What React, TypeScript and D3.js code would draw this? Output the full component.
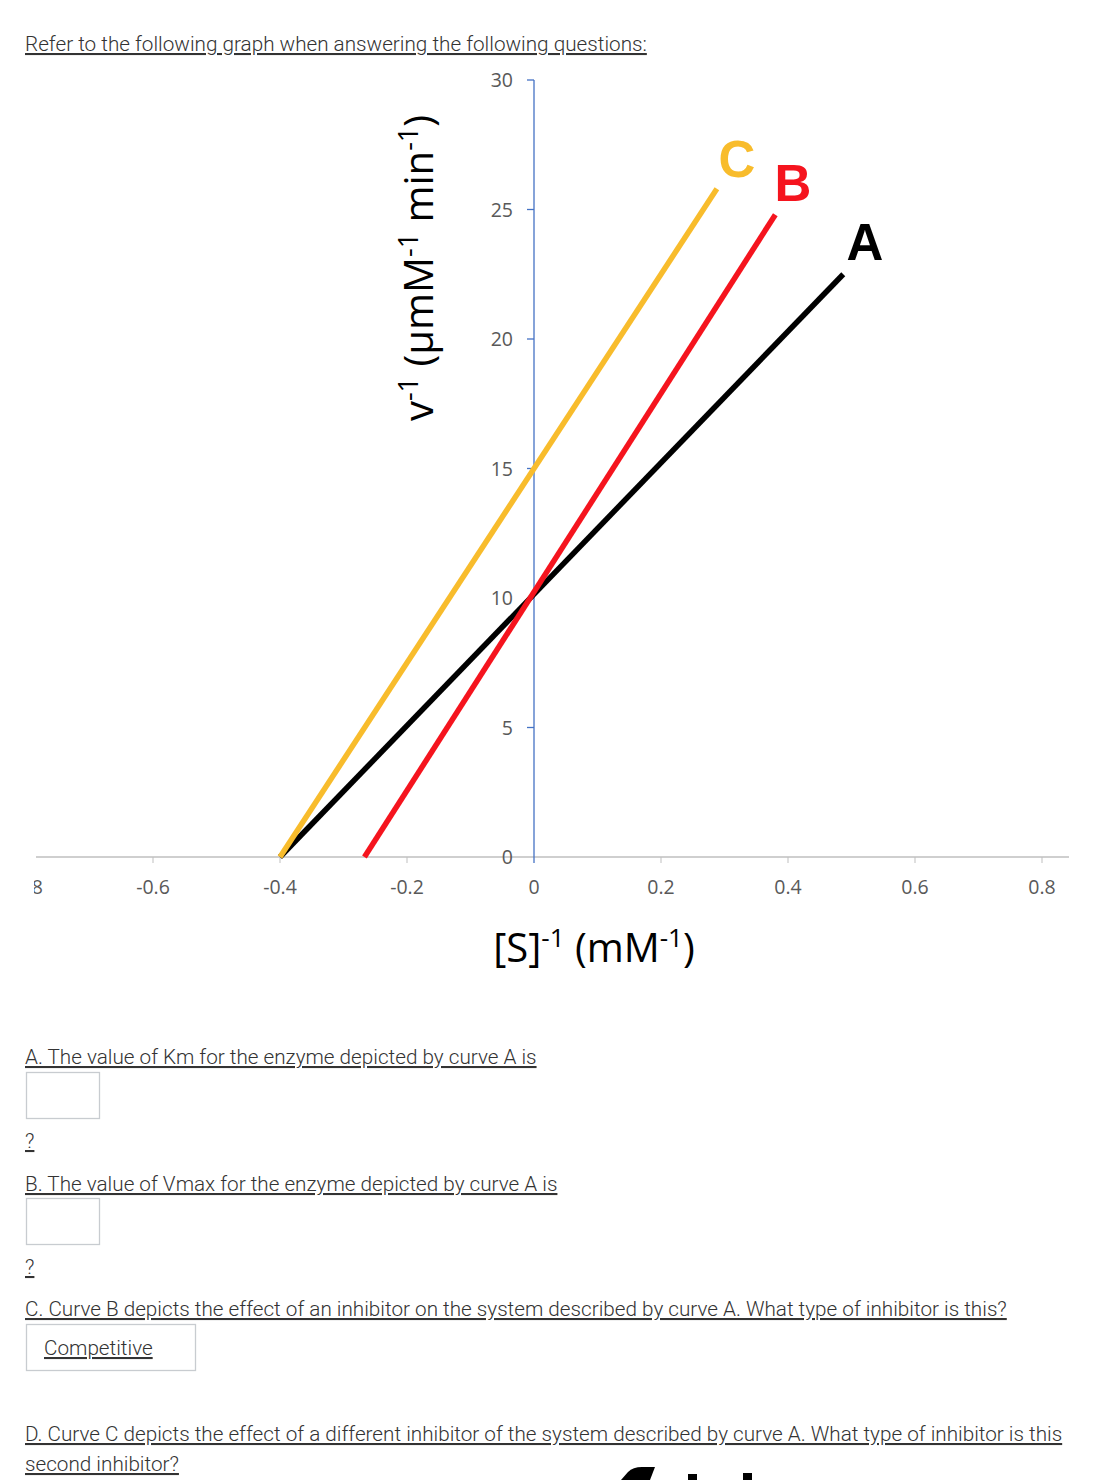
import * as d3 from "d3"

// Lineweaver-Burk lines: [1/[S], 1/v]
const curveA: [number, number][] = [[-0.4, 0], [0.487, 22.5]]
const curveB: [number, number][] = [[-0.267, 0], [0.38, 24.8]]
const curveC: [number, number][] = [[-0.4, 0], [0.288, 25.8]]

const xTicks = [-0.8, -0.6, -0.4, -0.2, 0, 0.2, 0.4, 0.6, 0.8]
const yTicks = [0, 5, 10, 15, 20, 25, 30]

const questionA = "A. The value of Km for the enzyme depicted by curve A is"
const questionB = "B. The value of Vmax for the enzyme depicted by curve A is"
const questionC = "C. Curve B depicts the effect of an inhibitor on the system described by curve A. What type of inhibitor is this? "
const questionD1 = "D. Curve C depicts the effect of a different inhibitor of the system described by curve A. What type of inhibitor is this"
const questionD2 = "second inhibitor? "

const W = 1114
const H = 1480

export default function App() {
  const x = d3.scaleLinear().domain([-0.8, 0.8]).range([26, 1042])
  const y = d3.scaleLinear().domain([0, 30]).range([857, 80])
  const line = d3
    .line<[number, number]>()
    .x((d) => x(d[0]))
    .y((d) => y(d[1]))

  const tickFont = "'Open Sans', 'Liberation Sans', sans-serif"
  const qFont = "Roboto, sans-serif"
  const qStyle = { textDecoration: "underline" }

  const curves = [
    { data: curveA, color: "#000000" },
    { data: curveC, color: "#F8BC2C" },
    { data: curveB, color: "#F5141E" },
  ]

  return (
    <svg
      width={W}
      height={H}
      style={{ position: "absolute", left: 0, top: 0, background: "#fff" }}
    >
      <defs>
        <clipPath id="plotClip">
          <rect x={34} y={0} width={W} height={H} />
        </clipPath>
      </defs>

      <text x={25} y={51} fontFamily={qFont} fontWeight={300} fontSize={20.7} fill="#333" style={qStyle}>
        Refer to the following graph when answering the following questions:
      </text>

      {/* x axis */}
      <g clipPath="url(#plotClip)">
        <line x1={36} x2={1069} y1={y(0)} y2={y(0)} stroke="#BFBFBF" strokeWidth={1.5} />
        {xTicks.map((t) => (
          <g key={t}>
            {t !== 0 && t !== -0.8 && (
              <line x1={x(t)} x2={x(t)} y1={y(0)} y2={y(0) + 6} stroke="#BFBFBF" strokeWidth={1} />
            )}
            <text
              x={x(t)}
              y={y(0) + 37}
              textAnchor="middle"
              fontFamily={tickFont}
              fontSize={19.5}
              fill="#595959"
            >
              {t === 0 ? "0" : d3.format(".1f")(t).replace("−", "-")}
            </text>
          </g>
        ))}
      </g>

      {/* y axis */}
      <line x1={x(0)} x2={x(0)} y1={y(30)} y2={y(0) + 6} stroke="#4472C4" strokeWidth={1.3} />
      {yTicks.map((t) => (
        <g key={t}>
          {t !== 0 && <line x1={x(0) - 7} x2={x(0)} y1={y(t)} y2={y(t)} stroke="#4472C4" strokeWidth={1.3} />}
          <text
            x={x(0) - 21}
            y={y(t) + 7}
            textAnchor="end"
            fontFamily={tickFont}
            fontSize={19.5}
            fill="#595959"
          >
            {t}
          </text>
        </g>
      ))}

      {/* lines */}
      {curves.map((c, i) => (
        <path key={i} d={line(c.data) ?? ""} fill="none" stroke={c.color} strokeWidth={5.5} strokeLinecap="butt" />
      ))}

      <g fontFamily="'Liberation Sans', Arial, sans-serif" fontWeight="bold" fontSize={51} textAnchor="middle">
        <text x={737} y={177} fill="#F8BC2C">C</text>
        <text x={793} y={201} fill="#F5141E">B</text>
        <text x={865} y={260} fill="#000">A</text>
      </g>

      {/* axis titles */}
      <text
        transform={`translate(433,268) rotate(-90)`}
        textAnchor="middle"
        fontFamily={tickFont}
        fontSize={40}
        fill="#000"
      >
        v<tspan fontSize={27} dy={-15}>-1</tspan>
        <tspan dy={15}> (µmM</tspan>
        <tspan fontSize={27} dy={-15}>-1</tspan>
        <tspan dy={15}> min</tspan>
        <tspan fontSize={27} dy={-15}>-1</tspan>
        <tspan dy={15}>)</tspan>
      </text>

      <text x={594} y={962} textAnchor="middle" fontFamily={tickFont} fontSize={40} fill="#000">
        [S]<tspan fontSize={26} dy={-15}>-1</tspan>
        <tspan dy={15}> (mM</tspan>
        <tspan fontSize={26} dy={-15}>-1</tspan>
        <tspan dy={15}>)</tspan>
      </text>

      {/* questions */}
      <g fontFamily={qFont} fontWeight={300} fontSize={20.7} fill="#333">
        <text x={25} y={1064} style={qStyle}>{questionA}</text>
        <rect x={26.5} y={1072.5} width={73} height={46} fill="#fff" stroke="#C8CCD0" strokeWidth={1.3} />
        <text x={25} y={1148} style={qStyle}>?</text>

        <text x={25} y={1191} style={qStyle}>{questionB}</text>
        <rect x={26.5} y={1198.5} width={73} height={46} fill="#fff" stroke="#C8CCD0" strokeWidth={1.3} />
        <text x={25} y={1274} style={qStyle}>?</text>

        <text x={25} y={1316} style={qStyle}>{questionC}</text>
        <rect x={26.5} y={1324.5} width={169} height={46} fill="#fff" stroke="#C8CCD0" strokeWidth={1.3} />
        <text x={44} y={1355} style={qStyle}>Competitive</text>

        <text x={25} y={1441} style={qStyle}>{questionD1}</text>
        <text x={25} y={1471} style={qStyle}>{questionD2}</text>
      </g>

      {/* top of a large glyph row cut off by the bottom edge */}
      <g fill="#000">
        <path d="M621,1480 L628,1472 Q633,1467 642,1467 L655,1467 L650,1480 Z" />
        <rect x={688} y={1474} width={9} height={6} />
        <rect x={743} y={1473} width={9} height={7} />
      </g>
    </svg>
  )
}
